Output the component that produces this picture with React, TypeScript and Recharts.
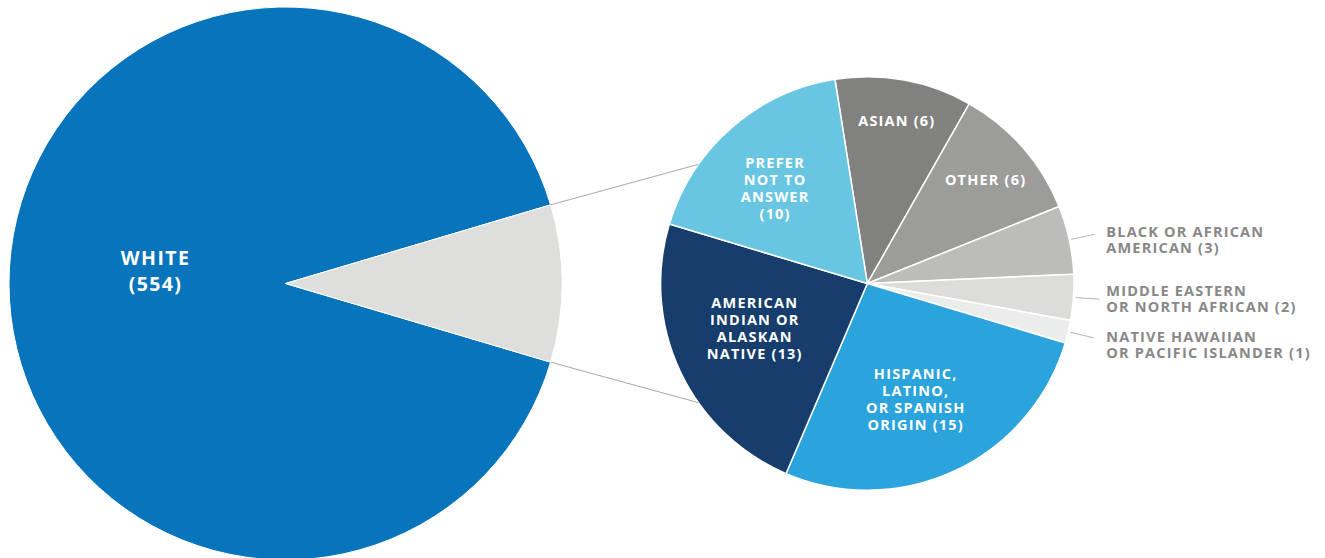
import React from 'react';
import { PieChart, Pie, Cell } from 'recharts';

// big pie: everyone, with the non-white groups pulled out
const mainCategories = ['White', 'All other groups'];
const mainValues = [554, 56];
const mainLabels = [['WHITE', '(554)'], []];

// small pie: breakdown of the pulled-out slice, clockwise from the top
const detailCategories = [
  'Asian',
  'Other',
  'Black or African American',
  'Middle Eastern or North African',
  'Native Hawaiian or Pacific Islander',
  'Hispanic, Latino, or Spanish Origin',
  'American Indian or Alaskan Native',
  'Prefer not to answer',
];
const detailValues = [6, 6, 3, 2, 1, 15, 13, 10];
const detailLabels = [
  ['ASIAN (6)'],
  ['OTHER (6)'],
  ['BLACK OR AFRICAN', 'AMERICAN (3)'],
  ['MIDDLE EASTERN', 'OR NORTH AFRICAN (2)'],
  ['NATIVE HAWAIIAN', 'OR PACIFIC ISLANDER (1)'],
  ['HISPANIC,', 'LATINO,', 'OR SPANISH', 'ORIGIN (15)'],
  ['AMERICAN', 'INDIAN OR', 'ALASKAN', 'NATIVE (13)'],
  ['PREFER', 'NOT TO', 'ANSWER', '(10)'],
];

const mainColors = ['#0774BC', '#DEDEDC'];
const detailColors = ['#81817F', '#9C9C9A', '#BCBCBB', '#DCDCDB', '#EBEDEC', '#2BA3DD', '#163D6B', '#68C6E3'];

// label placement: inside labels use radius fraction + nudge, outside ones get a leader line
const detailLabelLayout = [
  { f: 0.8, dx: 0, dy: 0 },
  { f: 0.76, dx: 0, dy: 0 },
  { outside: true, dy: 2.5 },
  { outside: true, dy: -3.5 },
  { outside: true, dy: 4 },
  { f: 0.61, dx: -5, dy: 2 },
  { f: 0.585, dx: -3, dy: -6 },
  { f: 0.641, dx: -5, dy: 5 },
];

const W = 1325;
const H = 558;
const BIG = { cx: 285.5, cy: 283.5, r: 276.5 };
const SMALL = { cx: 867.3, cy: 283.5, r: 206.7 };
const CONNECT_ANGLE = 35.2;
const FONT = "'Open Sans', sans-serif";
const RAD = Math.PI / 180;

const polar = (cx: number, cy: number, r: number, a: number) => ({
  x: cx + r * Math.cos(a * RAD),
  y: cy - r * Math.sin(a * RAD),
});

const mainData = mainCategories.map((name, i) => ({ name, value: mainValues[i] }));
const detailData = detailCategories.map((name, i) => ({ name, value: detailValues[i] }));

const otherSpan = (360 * mainValues[1]) / (mainValues[0] + mainValues[1]);

const renderMainLabel = (props: any) => {
  const { cx, cy, outerRadius, startAngle, endAngle, midAngle, index } = props;
  if (index === 1) {
    const a = polar(cx, cy, outerRadius, endAngle);
    const b = polar(cx, cy, outerRadius, startAngle);
    const ta = polar(SMALL.cx, SMALL.cy, SMALL.r, 180 - CONNECT_ANGLE);
    const tb = polar(SMALL.cx, SMALL.cy, SMALL.r, 180 + CONNECT_ANGLE);
    return (
      <g key="connectors">
        <line x1={a.x} y1={a.y} x2={ta.x} y2={ta.y} stroke="#A8A8A8" strokeWidth={1} />
        <line x1={b.x} y1={b.y} x2={tb.x} y2={tb.y} stroke="#A8A8A8" strokeWidth={1} />
      </g>
    );
  }
  const lines = mainLabels[index];
  const p = polar(cx, cy, outerRadius * 0.47, midAngle);
  const fs = 19.5;
  const lh = 26;
  const yc = p.y - 12.5;
  return (
    <g key="main-label">
      {lines.map((t, i) => (
        <text
          key={t}
          x={p.x}
          y={yc + (i - (lines.length - 1) / 2) * lh + fs * 0.357}
          textAnchor="middle"
          fill="#fff"
          fontFamily={FONT}
          fontWeight={700}
          fontSize={fs}
          letterSpacing={1.4}
        >
          {t}
        </text>
      ))}
    </g>
  );
};

const renderDetailLabel = (props: any) => {
  const { cx, cy, outerRadius, midAngle, index } = props;
  const lines = detailLabels[index];
  const lay: any = detailLabelLayout[index];
  const fs = 14.5;
  if (lay.outside) {
    const s = polar(cx, cy, outerRadius + 2, midAngle);
    const e = polar(cx, cy, outerRadius + 26, midAngle);
    const lh = 16.5;
    return (
      <g key={`dl-${index}`}>
        <line x1={s.x} y1={s.y} x2={e.x} y2={e.y} stroke="#B5B5B5" strokeWidth={1} />
        {lines.map((t, i) => (
          <text
            key={t}
            x={cx + 239}
            y={e.y + lay.dy + i * lh}
            textAnchor="start"
            fill="#888888"
            fontFamily={FONT}
            fontWeight={700}
            fontSize={fs}
            letterSpacing={1.2}
          >
            {t}
          </text>
        ))}
      </g>
    );
  }
  const p = polar(cx, cy, outerRadius * lay.f, midAngle);
  const lh = 17;
  return (
    <g key={`dl-${index}`}>
      {lines.map((t, i) => (
        <text
          key={t}
          x={p.x + lay.dx}
          y={p.y + lay.dy + (i - (lines.length - 1) / 2) * lh + fs * 0.357}
          textAnchor="middle"
          fill="#fff"
          fontFamily={FONT}
          fontWeight={700}
          fontSize={fs}
          letterSpacing={1.2}
        >
          {t}
        </text>
      ))}
    </g>
  );
};

export default function App() {
  return (
    <div style={{ position: 'absolute', left: 0, top: 0, width: W, height: H, background: '#fff' }}>
      <PieChart width={W} height={H} margin={{ top: 0, right: 0, bottom: 0, left: 0 }}>
        <Pie
          data={mainData}
          dataKey="value"
          nameKey="name"
          cx={BIG.cx}
          cy={BIG.cy}
          outerRadius={BIG.r}
          startAngle={otherSpan / 2}
          endAngle={otherSpan / 2 + 360}
          stroke="#fff"
          strokeWidth={1}
          label={renderMainLabel}
          labelLine={false}
          isAnimationActive={false}
        >
          {mainData.map((d, i) => (
            <Cell key={d.name} fill={mainColors[i]} />
          ))}
        </Pie>
        <Pie
          data={detailData}
          dataKey="value"
          nameKey="name"
          cx={SMALL.cx}
          cy={SMALL.cy}
          outerRadius={SMALL.r}
          startAngle={99}
          endAngle={-261}
          stroke="#fff"
          strokeWidth={1.5}
          label={renderDetailLabel}
          labelLine={false}
          isAnimationActive={false}
        >
          {detailData.map((d, i) => (
            <Cell key={d.name} fill={detailColors[i]} />
          ))}
        </Pie>
      </PieChart>
    </div>
  );
}
